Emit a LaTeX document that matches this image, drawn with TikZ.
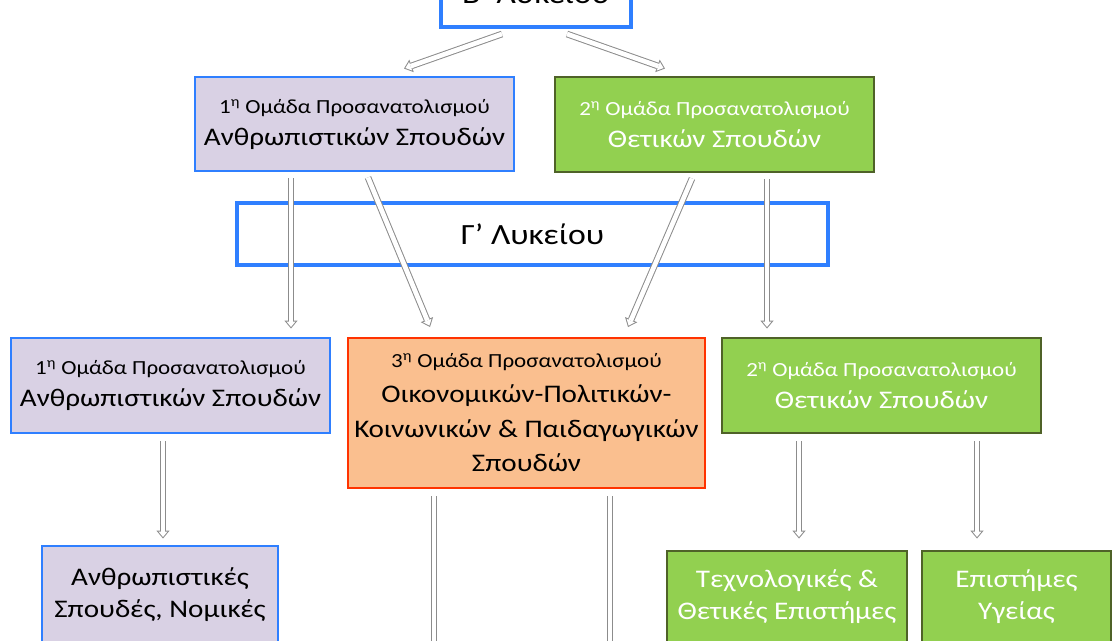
\documentclass[tikz,border=0pt]{standalone}
\usepackage{fontspec}
\setmainfont{Carlito}[FakeStretch=1.15]
\usepackage{tikz}
\usetikzlibrary{arrows.meta,positioning,calc}
\definecolor{lvblue}{HTML}{2F7FFF}
\definecolor{lvlilac}{HTML}{D9D1E4}
\definecolor{lvgreen}{HTML}{92D050}
\definecolor{lvolive}{HTML}{4F6228}
\definecolor{lvorange}{HTML}{FABF8F}
\definecolor{lvred}{HTML}{FF3300}
\definecolor{lvgray}{HTML}{8C8C8C}
\tikzset{
  hollow/.style={line width=5pt, draw=lvgray,
    -{Triangle[length=6pt, width=10pt, line width=0pt]},
    postaction={draw=white, line width=3.5pt, shorten >=1.17pt,
      -{Triangle[length=4.08pt, width=6.8pt, line width=0pt]}}},
  yearbox/.style={draw=lvblue, line width=3pt, fill=white, inner sep=0pt,
    font=\fontsize{22}{26}\selectfont},
  humbox/.style={draw=lvblue, line width=2.2pt, fill=lvlilac, align=center,
    inner sep=0pt, font=\fontsize{19}{24}\selectfont},
  scibox/.style={draw=lvolive, line width=2.2pt, fill=lvgreen, align=center,
    inner sep=0pt, text=white, font=\fontsize{19}{24}\selectfont},
  ecobox/.style={draw=lvred, line width=1.5pt, fill=lvorange, align=center,
    inner sep=0pt, font=\fontsize{19}{26}\selectfont}
}
\newcommand\smalltxt{\fontsize{15}{18}\selectfont}

\begin{document}
\begin{tikzpicture}[x=0.75pt, y=-0.75pt]
        \useasboundingbox (0,0) rectangle (1113,640);
        \clip (0,0) rectangle (1113,640);

        \node[yearbox, minimum width=142.5pt, minimum height=51pt] (bl) at (536,-7) {Β’ Λυκείου};
        \node[humbox, minimum width=239.25pt, minimum height=70.5pt] (hum1) at (354.5,124)
            {{\smalltxt 1\textsuperscript{η} Ομάδα Προσανατολισμού}\\Ανθρωπιστικών Σπουδών};
        \node[scibox, minimum width=239.25pt, minimum height=71.25pt] (sci1) at (714.5,124.5)
            {{\smalltxt 2\textsuperscript{η} Ομάδα Προσανατολισμού}\\Θετικών Σπουδών};
        \node[yearbox, minimum width=443.25pt, minimum height=46.5pt] (gl) at (532.5,234) {Γ’ Λυκείου};

        \node[humbox, minimum width=239.25pt, minimum height=71.25pt] (hum2) at (170.5,385.5)
            {{\smalltxt 1\textsuperscript{η} Ομάδα Προσανατολισμού}\\Ανθρωπιστικών Σπουδών};
        \node[ecobox, minimum width=267.75pt, minimum height=112.5pt] (eco) at (526.5,413)
            {{\smalltxt 3\textsuperscript{η} Ομάδα Προσανατολισμού}\\Οικονομικών-Πολιτικών-\\Κοινωνικών \& Παιδαγωγικών\\Σπουδών};
        \node[scibox, minimum width=239.25pt, minimum height=71.25pt] (sci2) at (881.5,385.5)
            {{\smalltxt 2\textsuperscript{η} Ομάδα Προσανατολισμού}\\Θετικών Σπουδών};

        \node[humbox, minimum width=177pt, minimum height=72.75pt] (law) at (160,594.5)
            {Ανθρωπιστικές\\Σπουδές, Νομικές};
        \node[scibox, minimum width=180pt, minimum height=69pt] (tech) at (787,597)
            {Τεχνολογικές \&\\Θετικές Επιστήμες};
        \node[scibox, minimum width=141.75pt, minimum height=69pt] (health) at (1016.5,597)
            {Επιστήμες\\Υγείας};

        \coordinate (ecoL) at (434,720);
        \coordinate (ecoR) at (610,720);

        \draw[hollow] ($(bl.south)+(-34,5)$) -- ($(hum1.north)+(49.5,-7)$);
        \draw[hollow] ($(bl.south)+(31,5)$) -- ($(sci1.north)+(-49.5,-7)$);
        \draw[hollow] ($(hum1.south)+(-63.5,6)$) -- ($(hum2.north)+(120.5,-8)$);
        \draw[hollow] ($(hum1.south)+(13.5,5)$) -- ($(eco.north)+(-96.5,-10)$);
        \draw[hollow] ($(sci1.south)+(-22.5,5)$) -- ($(eco.north)+(101.5,-10)$);
        \draw[hollow] ($(sci1.south)+(52.5,6)$) -- ($(sci2.north)+(-114.5,-8)$);
        \draw[hollow] ($(hum2.south)+(-7.5,7)$) -- ($(law.north)+(3,-6)$);
        \draw[hollow] ($(sci2.south)+(-82.5,7)$) -- ($(tech.north)+(12,-11)$);
        \draw[hollow] ($(sci2.south)+(95.5,7)$) -- ($(health.north)+(-39.5,-11)$);
        \draw[hollow] ($(eco.south)+(-92.5,7)$) -- (ecoL);
        \draw[hollow] ($(eco.south)+(83.5,7)$) -- (ecoR);
    \end{tikzpicture}
\end{document}
